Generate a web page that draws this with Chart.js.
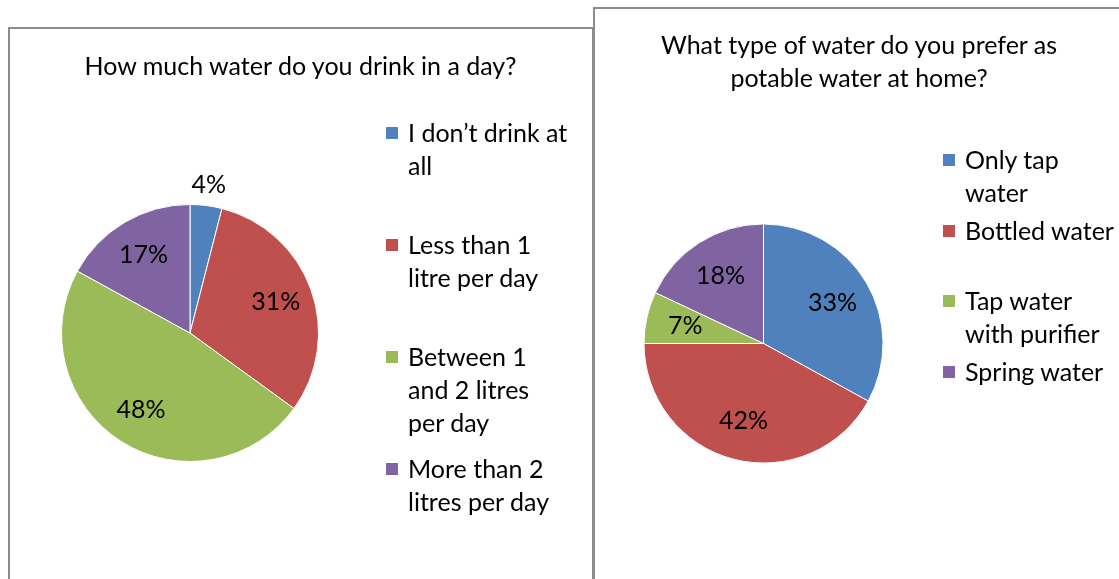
<!DOCTYPE html>
<html lang="en">
<head>
<meta charset="UTF-8">
<title>Water survey pies</title>
<style>
  html, body { margin: 0; padding: 0; background: #fff; }
  body { width: 1119px; height: 579px; position: relative; overflow: hidden; font-family: Lato, "Noto Sans", sans-serif; color: #000; }
  .box { position: absolute; border: 2px solid #8c8c8c; background: #fff; }
  #box1 { left: 8px; top: 27px; width: 582px; height: 600px; }
  #box2 { left: 593px; top: 7px; width: 600px; height: 620px; }
  canvas { position: absolute; top: 0; }
  .title { position: absolute; text-align: center; font-size: 25px; line-height: 33px; white-space: pre; }
  .legend { position: absolute; font-size: 25px; line-height: 33px; }
  .legend .item { position: absolute; left: 0; white-space: pre; }
  .legend .sw { position: absolute; left: -22px; top: 11px; width: 12px; height: 12px; }
</style>
</head>
<body>
<div class="box" id="box1"></div>
<div class="box" id="box2"></div>
<canvas id="pie1" width="593" height="579" style="left:0"></canvas>
<canvas id="pie2" width="525" height="579" style="left:594px"></canvas>
<div class="title" id="title1" style="left:8px;width:585px;top:49px;"></div>
<div class="title" id="title2" style="left:594px;width:530px;top:28px;"></div>
<div class="legend" id="legend1" style="left:408px;top:116px;"></div>
<div class="legend" id="legend2" style="left:965px;top:143px;"></div>
<script src="https://cdn.jsdelivr.net/npm/chart.js"></script>
<script>
const colors = ['#4F81BD', '#C0504D', '#9BBB59', '#8064A2'];

const title1 = ['How much water do you drink in a day?'];
const labels1 = [['I don\u2019t drink at', 'all'], ['Less than 1', 'litre per day'], ['Between 1', 'and 2 litres', 'per day'], ['More than 2', 'litres per day']];
const values1 = [4, 31, 48, 17];

const title2 = ['What type of water do you prefer as', 'potable water at home?'];
const labels2 = [['Only tap', 'water'], ['Bottled water'], ['Tap water', 'with purifier'], ['Spring water']];
const values2 = [33, 42, 7, 18];

// percentage labels inside the slices, small slices go outside
const pctLabels = {
  id: 'pctLabels',
  afterDatasetsDraw(chart, args, opts) {
    const ctx = chart.ctx;
    const data = chart.data.datasets[0].data;
    ctx.save();
    ctx.font = '25px Lato, "Noto Sans", sans-serif';
    ctx.fillStyle = '#000';
    ctx.textAlign = 'center';
    ctx.textBaseline = 'middle';
    chart.getDatasetMeta(0).data.forEach((arc, i) => {
      const p = arc.getProps(['x', 'y', 'startAngle', 'endAngle', 'outerRadius']);
      const mid = (p.startAngle + p.endAngle) / 2;
      const f = data[i] < 5 ? 1.16 : opts.factor;
      ctx.fillText(data[i] + '%', p.x + Math.cos(mid) * p.outerRadius * f, p.y + Math.sin(mid) * p.outerRadius * f);
    });
    ctx.restore();
  }
};

function makePie(id, labels, values, padding, factor) {
  return new Chart(document.getElementById(id), {
    type: 'pie',
    data: { labels: labels, datasets: [{ data: values, backgroundColor: colors, borderColor: '#fff', borderWidth: 1 }] },
    options: {
      responsive: false,
      animation: false,
      layout: { padding: padding },
      plugins: { legend: { display: false }, tooltip: { enabled: false }, pctLabels: { factor: factor } }
    },
    plugins: [pctLabels]
  });
}

function makeLegend(id, labels, step) {
  const el = document.getElementById(id);
  labels.forEach((lines, i) => {
    const item = document.createElement('div');
    item.className = 'item';
    item.style.top = (i * step) + 'px';
    const sw = document.createElement('span');
    sw.className = 'sw';
    sw.style.background = colors[i];
    item.appendChild(sw);
    item.appendChild(document.createTextNode(lines.join('\n')));
    el.appendChild(item);
  });
}

document.getElementById('title1').textContent = title1.join('\n');
document.getElementById('title2').textContent = title2.join('\n');

makePie('pie1', labels1, values1, { left: 61, right: 274, top: 204, bottom: 117 }, 0.71);
makePie('pie2', labels2, values2, { left: 49.5, right: 235.5, top: 223.5, bottom: 115.5 }, 0.67);
makeLegend('legend1', labels1, 112);
makeLegend('legend2', labels2, 70.5);
</script>
</body>
</html>
